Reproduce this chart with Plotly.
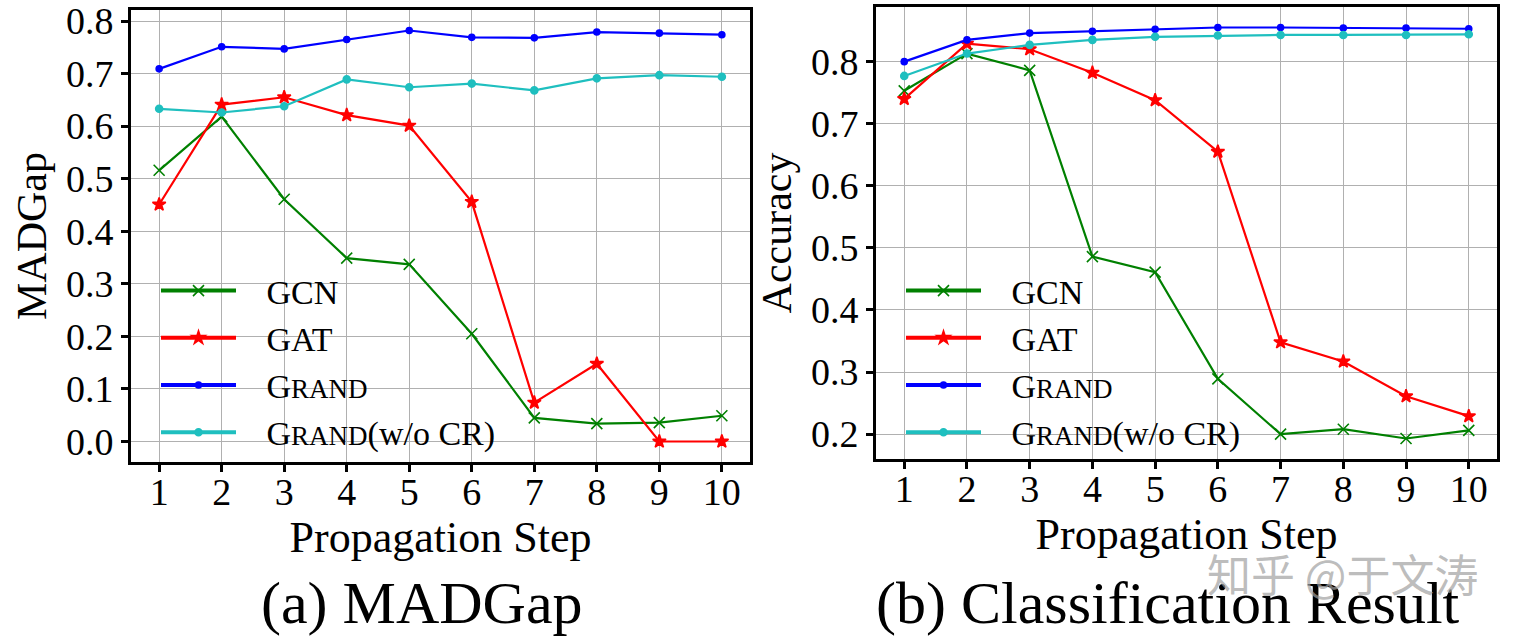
import plotly.graph_objects as go

steps = [1, 2, 3, 4, 5, 6, 7, 8, 9, 10]

# (a) MADGap
mad_gcn = [0.516, 0.618, 0.461, 0.349, 0.337, 0.205, 0.045, 0.034, 0.036, 0.049]
mad_gat = [0.451, 0.641, 0.655, 0.621, 0.601, 0.456, 0.074, 0.148, 0.0, 0.0]
mad_grand = [0.709, 0.751, 0.747, 0.765, 0.782, 0.769, 0.768, 0.779, 0.777, 0.774]
mad_grand_nocr = [0.633, 0.626, 0.638, 0.689, 0.674, 0.681, 0.668, 0.691, 0.697, 0.694]

# (b) Classification accuracy
acc_gcn = [0.753, 0.813, 0.786, 0.486, 0.461, 0.289, 0.200, 0.208, 0.193, 0.206]
acc_gat = [0.740, 0.829, 0.820, 0.782, 0.738, 0.655, 0.348, 0.317, 0.261, 0.229]
acc_grand = [0.800, 0.835, 0.846, 0.849, 0.852, 0.855, 0.855, 0.854, 0.854, 0.853]
acc_grand_nocr = [0.777, 0.813, 0.827, 0.835, 0.840, 0.842, 0.843, 0.843, 0.843, 0.844]

mad_ticks = [0.0, 0.1, 0.2, 0.3, 0.4, 0.5, 0.6, 0.7, 0.8]
acc_ticks = [0.2, 0.3, 0.4, 0.5, 0.6, 0.7, 0.8]

GAP = "\u2002\u00a0"
names = [GAP + "GCN", GAP + "GAT",
         GAP + "G<span style='font-size:27px'>RAND</span>",
         GAP + "G<span style='font-size:27px'>RAND</span>(w/o CR)"]
colors = ["#008000", "#ff0000", "#0000ff", "#1fbfbf"]
symbols = ["x-thin", "star", "circle", "circle"]
msizes = [11, 10, 6, 7]

FONT = "Liberation Serif"

fig = go.Figure()

panels = [
    ("x", "y", "legend", [mad_gcn, mad_gat, mad_grand, mad_grand_nocr]),
    ("x2", "y2", "legend2", [acc_gcn, acc_gat, acc_grand, acc_grand_nocr]),
]

for xa, ya, lg, series in panels:
    for i, vals in enumerate(series):
        fig.add_trace(go.Scatter(
            x=steps, y=vals, xaxis=xa, yaxis=ya, mode="lines+markers",
            line=dict(color=colors[i], width=2.2),
            marker=dict(symbol=symbols[i], size=msizes[i], color=colors[i],
                        line=dict(color=colors[i], width=1.6)),
            showlegend=False,
        ))
    for i in range(4):
        fig.add_trace(go.Scatter(
            x=[None], y=[None], xaxis=xa, yaxis=ya, mode="lines+markers",
            name=names[i], legend=lg,
            line=dict(color=colors[i], width=4),
            marker=dict(symbol=symbols[i], size=msizes[i], color=colors[i],
                        line=dict(color=colors[i], width=1.6)),
        ))

axis_common = dict(
    showgrid=True, gridcolor="#b0b0b0", gridwidth=1,
    showline=True, linecolor="black", linewidth=3, mirror=True,
    ticks="outside", ticklen=7, tickwidth=2.5, tickcolor="black",
    tickfont=dict(family=FONT, size=38, color="black"),
    zeroline=False, automargin=False,
)

xtitle = dict(text="Propagation Step", font=dict(family=FONT, size=44), standoff=4)

fig.update_layout(
    width=1516, height=637,
    margin=dict(l=0, r=0, t=0, b=0, autoexpand=False),
    paper_bgcolor="white", plot_bgcolor="white",
    font=dict(family=FONT, color="black"),
    xaxis=dict(domain=[131/1516, 750/1516], range=[0.55, 10.45],
               tickvals=steps, anchor="y", ticklabelstandoff=-13,
               title=xtitle, **axis_common),
    yaxis=dict(domain=[1-462/637, 1-10/637], range=[-0.039, 0.821],
               tickvals=mad_ticks, tickformat=".1f", anchor="x",
               title=dict(text="MADGap", font=dict(family=FONT, size=42), standoff=7),
               **axis_common),
    xaxis2=dict(domain=[876/1516, 1497/1516], range=[0.55, 10.45],
                tickvals=steps, anchor="y2", ticklabelstandoff=-13,
                title=xtitle, **axis_common),
    yaxis2=dict(domain=[1-459/637, 1-7/637], range=[0.160, 0.888],
                tickvals=acc_ticks, tickformat=".1f", anchor="x2",
                title=dict(text="Accuracy", font=dict(family=FONT, size=42), standoff=7),
                **axis_common),
    legend=dict(x=156/1516, xanchor="left", y=1-262/637, yanchor="top",
                bgcolor="rgba(255,255,255,0)", borderwidth=0,
                font=dict(family=FONT, size=34), itemwidth=75,
                tracegroupgap=0),
    legend2=dict(x=901/1516, xanchor="left", y=1-262/637, yanchor="top",
                 bgcolor="rgba(255,255,255,0)", borderwidth=0,
                 font=dict(family=FONT, size=34), itemwidth=75,
                 tracegroupgap=0),
    annotations=[
        dict(text="(a) MADGap", x=422/1516, y=1-603/637, xref="paper", yref="paper",
             xanchor="center", yanchor="middle", showarrow=False,
             font=dict(family=FONT, size=60, color="black")),
        dict(text="(b) Classification Result", x=1168/1516, y=1-603/637, xref="paper", yref="paper",
             xanchor="center", yanchor="middle", showarrow=False,
             font=dict(family=FONT, size=60, color="black")),
        dict(text="知乎 @于文涛", x=1342/1516, y=1-573/637, xref="paper", yref="paper",
             xanchor="center", yanchor="middle", showarrow=False,
             font=dict(family="Noto Sans CJK SC", size=44, color="rgba(160,160,160,0.7)")),
    ],
)

fig.write_html("out.html", config={"displayModeBar": False},
               post_script="document.body.style.margin='0px';document.body.style.overflow='hidden';")
